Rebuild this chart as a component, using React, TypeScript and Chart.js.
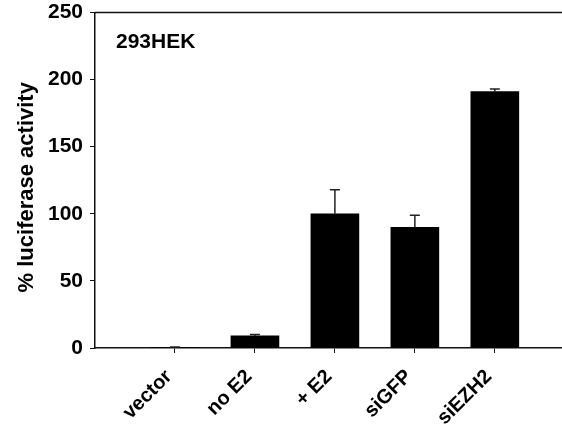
import React, { useEffect, useRef } from "react";
import { Chart, registerables } from "chart.js";

Chart.register(...registerables);

const categories = ["vector", "no E2", "+ E2", "siGFP", "siEZH2"];
const values = [0.3, 9, 100, 90, 191];
const errors = [0.5, 1, 18, 9, 2];
const yTicks = [0, 50, 100, 150, 200, 250];
const panelLabel = "293HEK";
const yTitle = "% luciferase activity";

const FONT = "'Liberation Sans', Arial, Helvetica, sans-serif";

export default function App() {
  const ref = useRef<HTMLCanvasElement | null>(null);

  useEffect(() => {
    document.body.style.margin = "0";
    const canvas = ref.current;
    if (!canvas) return;

    const extras = {
      id: "extras",
      afterDatasetsDraw(chart: any) {
        const { ctx, chartArea, scales } = chart;
        const xs = scales.x;
        const ys = scales.y;
        ctx.save();
        // error bars
        ctx.strokeStyle = "#222";
        ctx.lineWidth = 1.5;
        values.forEach((v, i) => {
          const x = xs.getPixelForValue(i);
          const y0 = ys.getPixelForValue(v);
          const y1 = ys.getPixelForValue(v + errors[i]);
          ctx.beginPath();
          ctx.moveTo(x, y0);
          ctx.lineTo(x, y1);
          ctx.moveTo(x - 5, y1);
          ctx.lineTo(x + 5, y1);
          ctx.stroke();
        });
        // top frame line
        ctx.strokeStyle = "#111";
        ctx.lineWidth = 1.5;
        ctx.beginPath();
        ctx.moveTo(chartArea.left, chartArea.top);
        ctx.lineTo(chartArea.right, chartArea.top);
        ctx.stroke();
        // panel label
        ctx.fillStyle = "#000";
        ctx.font = `bold 21px ${FONT}`;
        ctx.textAlign = "left";
        ctx.textBaseline = "alphabetic";
        ctx.fillText(panelLabel, chartArea.left + 21, chartArea.top + 35);
        // y axis title
        ctx.font = `bold 22px ${FONT}`;
        ctx.textAlign = "center";
        ctx.textBaseline = "middle";
        ctx.translate(27, (chartArea.top + chartArea.bottom) / 2 + 7);
        ctx.rotate(-Math.PI / 2);
        ctx.fillText(yTitle, 0, 0);
        ctx.restore();
      },
    };

    const chart = new Chart(canvas, {
      type: "bar",
      data: {
        datasets: [
          {
            data: values.map((v, i) => ({ x: i, y: v })),
            backgroundColor: "#000",
            borderWidth: 0,
            barThickness: 48,
          },
        ],
      },
      options: {
        animation: false,
        responsive: false,
        devicePixelRatio: 1,
        layout: { padding: { left: 0, right: 0, top: 0, bottom: 0 } },
        plugins: { legend: { display: false }, tooltip: { enabled: false } },
        scales: {
          x: {
            type: "linear",
            offset: false,
            min: -1,
            max: 4.84,
            afterBuildTicks: (s: any) => {
              s.ticks = categories.map((_, i) => ({ value: i }));
            },
            afterFit: (s: any) => {
              s.height = 89;
              s.paddingLeft = 0;
              s.paddingRight = 0;
            },
            grid: {
              display: true,
              offset: false,
              drawOnChartArea: false,
              drawTicks: true,
              tickLength: 5,
              color: "#111",
              lineWidth: 1,
            },
            border: { display: true, color: "#111", width: 1.5 },
            ticks: {
              autoSkip: false,
              minRotation: 45,
              maxRotation: 45,
              padding: 12,
              labelOffset: -6,
              color: "#000",
              font: { family: FONT, size: 20, weight: "bold" },
              callback: (v: any) => categories[v as number] ?? "",
            },
          },
          y: {
            type: "linear",
            min: 0,
            max: 250,
            afterBuildTicks: (s: any) => {
              s.ticks = yTicks.map((v) => ({ value: v }));
            },
            afterFit: (s: any) => {
              s.width = 95;
              s.paddingTop = 12.5;
              s.paddingBottom = 0;
            },
            grid: {
              display: true,
              drawOnChartArea: false,
              drawTicks: true,
              tickLength: 5,
              color: "#111",
              lineWidth: 1,
            },
            border: { display: true, color: "#111", width: 1.5 },
            ticks: {
              padding: 7,
              color: "#000",
              font: { family: FONT, size: 21, weight: "bold" },
            },
            title: { display: false },
          },
        },
      },
      plugins: [extras],
    });

    return () => chart.destroy();
  }, []);

  return (
    <div style={{ width: 562, height: 437 }}>
      <canvas ref={ref} width={562} height={437} />
    </div>
  );
}
